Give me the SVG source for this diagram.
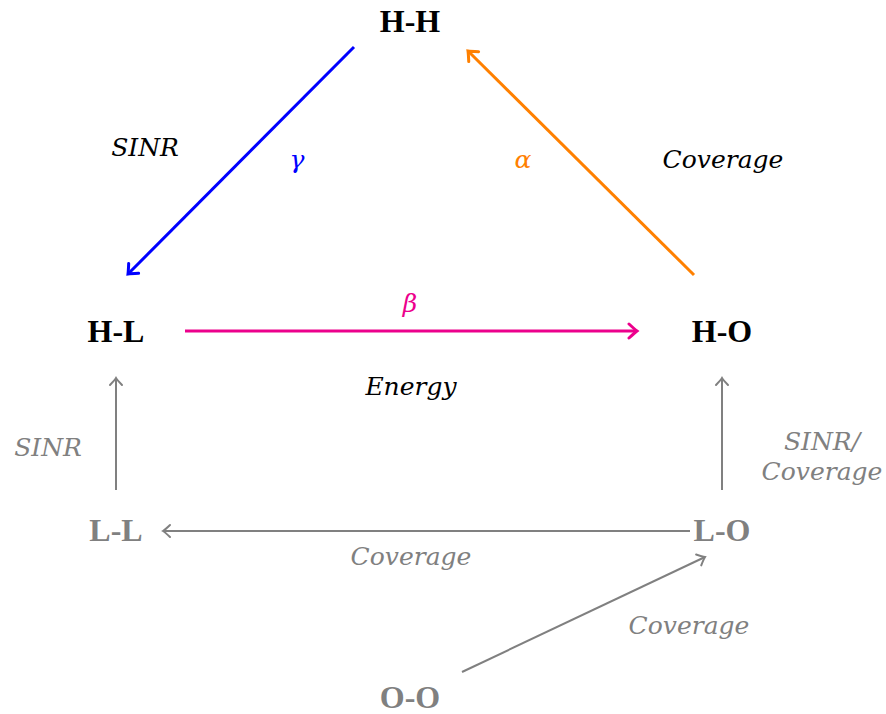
<svg xmlns="http://www.w3.org/2000/svg" width="886" height="714" viewBox="0 0 886 714">
<style>
.node{font-family:"Liberation Serif",serif;font-weight:bold;font-size:32px;text-anchor:middle}
.lab{font-family:"DejaVu Serif","Liberation Serif",serif;font-style:italic;font-size:25px;text-anchor:middle}
.blk{fill:#000}
.gry{fill:#808080}
.e{fill:none;stroke-linecap:butt}
</style>
<defs>
<marker id="mb" markerUnits="userSpaceOnUse" markerWidth="20" markerHeight="20" viewBox="-10 -10 20 20" refX="0" refY="0" orient="auto"><path d="M-8,-7 Q-2,-1.5 0,0 Q-2,1.5 -8,7" fill="none" stroke="#0000ff" stroke-width="3" stroke-linecap="round"/></marker>
<marker id="mo" markerUnits="userSpaceOnUse" markerWidth="20" markerHeight="20" viewBox="-10 -10 20 20" refX="0" refY="0" orient="auto"><path d="M-8,-7 Q-2,-1.5 0,0 Q-2,1.5 -8,7" fill="none" stroke="#ff8000" stroke-width="3" stroke-linecap="round"/></marker>
<marker id="mm" markerUnits="userSpaceOnUse" markerWidth="20" markerHeight="20" viewBox="-10 -10 20 20" refX="0" refY="0" orient="auto"><path d="M-8,-7 Q-2,-1.5 0,0 Q-2,1.5 -8,7" fill="none" stroke="#ec008c" stroke-width="3" stroke-linecap="round"/></marker>
<marker id="mg" markerUnits="userSpaceOnUse" markerWidth="20" markerHeight="20" viewBox="-10 -10 20 20" refX="0" refY="0" orient="auto"><path d="M-7,-6 Q-2,-1.2 0,0 Q-2,1.2 -7,6" fill="none" stroke="#808080" stroke-width="2" stroke-linecap="round"/></marker>
</defs>
<g id="connectors">
<line class="e" x1="354" y1="47" x2="128" y2="274" stroke="#0000ff" stroke-width="3" marker-end="url(#mb)"/>
<line class="e" x1="694" y1="275" x2="468" y2="51" stroke="#ff8000" stroke-width="3" marker-end="url(#mo)"/>
<line class="e" x1="185" y1="331" x2="637" y2="331" stroke="#ec008c" stroke-width="3" marker-end="url(#mm)"/>
<line class="e" x1="116" y1="490" x2="116" y2="378" stroke="#808080" stroke-width="2" marker-end="url(#mg)"/>
<line class="e" x1="722" y1="490" x2="722" y2="378" stroke="#808080" stroke-width="2" marker-end="url(#mg)"/>
<line class="e" x1="690" y1="531" x2="163" y2="531" stroke="#808080" stroke-width="2" marker-end="url(#mg)"/>
<line class="e" x1="462" y1="672" x2="705" y2="557" stroke="#808080" stroke-width="2" marker-end="url(#mg)"/>
<text class="lab blk" x="145" y="156">SINR</text>
<text class="lab" x="297" y="168" fill="#0000ff">γ</text>
<text class="lab" x="523" y="168" fill="#ff8000">α</text>
<text class="lab blk" x="723" y="168">Coverage</text>
<text class="lab" x="410" y="312" fill="#ec008c">β</text>
<text class="lab blk" x="411" y="395">Energy</text>
<text class="lab gry" x="48" y="456">SINR</text>
<text class="lab gry" x="822" y="450">SINR/</text>
<text class="lab gry" x="822" y="480">Coverage</text>
<text class="lab gry" x="411" y="565">Coverage</text>
<text class="lab gry" x="689" y="634">Coverage</text>
</g>
<g id="HH"><text class="node blk" x="410" y="32">H-H</text></g>
<g id="HL"><text class="node blk" x="116" y="342">H-L</text></g>
<g id="HO"><text class="node blk" x="722" y="342">H-O</text></g>
<g id="LL"><text class="node gry" x="116" y="541">L-L</text></g>
<g id="LO"><text class="node gry" x="722" y="541">L-O</text></g>
<g id="OO"><text class="node gry" x="410" y="708">O-O</text></g>
</svg>
